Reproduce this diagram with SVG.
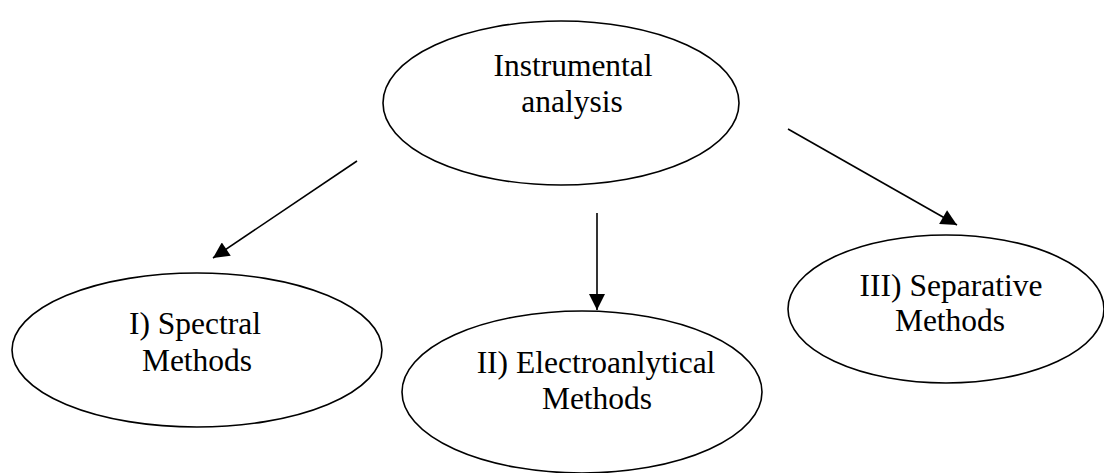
<svg xmlns="http://www.w3.org/2000/svg" width="1104" height="473" viewBox="0 0 1104 473">
  <style>
    .node ellipse { fill: #ffffff; stroke: #000000; stroke-width: 1.6; }
    .node text { font-family: "Liberation Serif", "Times New Roman", serif; font-size: 31.5px; fill: #000000; text-anchor: middle; }
    .conn line { stroke: #000000; stroke-width: 1.6; marker-end: url(#arrow); }
  </style>
  <defs>
    <marker id="arrow" viewBox="0 0 10 10" refX="10" refY="5" markerUnits="userSpaceOnUse" markerWidth="17" markerHeight="16" orient="auto">
      <path d="M0,0 L10,5 L0,10 z" fill="#000000"/>
    </marker>
  </defs>
  <rect width="1104" height="473" fill="#ffffff"/>

  <g id="node-instrumental" class="node">
    <ellipse cx="561" cy="103" rx="178" ry="82"/>
    <text x="573" y="76">Instrumental</text>
    <text x="572" y="112">analysis</text>
  </g>

  <g id="node-spectral" class="node">
    <ellipse cx="197" cy="350" rx="185" ry="77"/>
    <text x="195" y="334">I) Spectral</text>
    <text x="197" y="371">Methods</text>
  </g>

  <g id="node-electroanalytical" class="node">
    <ellipse cx="582" cy="392" rx="180" ry="81"/>
    <text x="596" y="373">II) Electroanlytical</text>
    <text x="597" y="409">Methods</text>
  </g>

  <g id="node-separative" class="node">
    <ellipse cx="946" cy="309" rx="158" ry="74"/>
    <text x="951" y="296">III) Separative</text>
    <text x="950" y="331">Methods</text>
  </g>

  <g id="connectors" class="conn">
    <line x1="357" y1="161" x2="213" y2="258"/>
    <line x1="597" y1="213" x2="597" y2="310"/>
    <line x1="788" y1="129" x2="957" y2="225"/>
  </g>
</svg>
